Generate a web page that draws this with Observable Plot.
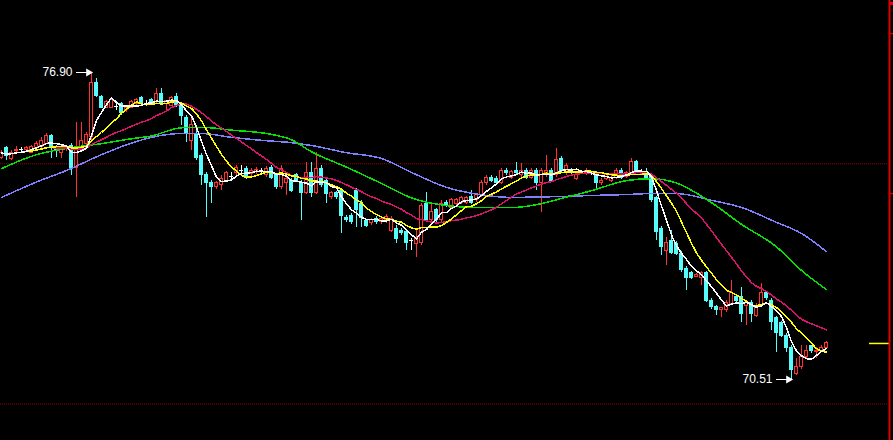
<!DOCTYPE html>
<html><head><meta charset="utf-8">
<script src="https://cdn.jsdelivr.net/npm/d3@7"></script>
<script src="https://cdn.jsdelivr.net/npm/@observablehq/plot@0.6"></script>
<style>
html,body{margin:0;padding:0;background:#000;overflow:hidden;width:893px}
#chart svg{display:block;max-width:none}
</style></head><body><div id="chart"></div>
<script>
// ---- candle data (one bar per session) ----
const opens = [
75.13,75.32,75.11,75.27,75.30,75.28,75.23,75.32,75.34,75.42,
75.57,75.34,75.23,75.30,75.38,74.92,75.28,75.42,75.55,76.69,
76.40,76.17,76.17,76.19,76.25,76.11,76.17,76.25,76.36,76.25,
76.32,76.28,76.46,76.25,76.21,76.38,76.21,75.96,75.48,75.59,
75.17,74.76,74.61,74.51,74.55,74.65,74.73,74.80,74.86,74.90,
74.78,74.82,74.86,74.76,74.92,74.76,74.51,74.59,74.65,74.76,
74.61,74.40,74.80,74.40,74.90,74.65,74.30,74.40,74.44,73.88,
73.92,74.44,74.17,73.80,73.76,73.86,73.78,73.82,73.61,73.65,
73.61,73.57,73.40,73.34,73.36,74.17,73.82,74.03,73.82,74.19,
74.09,74.17,74.19,74.19,74.30,74.24,74.34,74.59,74.71,74.69,
74.61,74.86,74.71,74.86,74.76,74.86,74.71,74.86,74.61,74.80,
74.86,74.76,75.11,74.80,74.86,74.69,74.82,74.80,74.80,74.80,
74.59,74.69,74.65,74.71,74.86,74.73,74.80,75.03,74.82,74.80,
74.76,74.28,73.65,73.19,73.40,73.34,73.13,72.82,72.72,72.65,
72.63,72.72,72.15,72.01,71.95,71.95,72.09,72.22,72.22,72.05,
72.11,71.84,72.05,72.30,72.15,71.78,71.68,71.42,71.17,70.63,
70.76,70.97,71.20,71.09,71.11,71.17];
const highs = [
75.28,75.36,75.28,75.36,75.34,75.36,75.38,75.46,75.55,75.63,
75.61,75.38,75.36,75.36,75.42,75.86,75.86,75.65,76.90,76.78,
76.42,76.32,76.36,76.25,76.28,76.21,76.32,76.36,76.40,76.32,
76.36,76.57,76.57,76.32,76.40,76.46,76.25,76.00,75.94,75.69,
75.21,74.82,74.65,74.63,74.76,74.84,74.82,74.96,74.96,74.94,
74.90,74.92,74.90,74.94,74.96,74.80,74.96,74.76,74.69,74.80,
74.65,75.03,75.03,75.23,74.96,74.69,74.42,74.42,74.49,73.92,
73.96,74.49,74.24,73.84,73.86,73.90,73.90,73.94,73.90,73.71,
73.65,73.61,73.44,73.61,74.17,74.40,74.17,74.07,74.24,74.24,
74.28,74.28,74.32,74.32,74.44,74.38,74.65,74.76,74.76,74.73,
74.90,74.90,74.86,75.03,75.01,74.90,74.90,74.90,74.90,75.17,
74.90,75.32,75.15,75.01,74.90,74.80,74.86,74.90,74.84,74.84,
74.69,74.80,74.76,74.90,74.90,74.84,75.11,75.07,74.88,74.90,
74.80,74.32,73.69,73.46,73.61,73.38,73.17,72.86,72.76,72.72,
72.76,72.76,72.20,72.05,72.01,72.15,72.57,72.26,72.42,72.15,
72.15,72.09,72.51,72.34,72.20,71.82,71.72,71.47,71.22,70.95,
71.22,71.22,71.22,71.17,71.22,71.30];
const lows = [
75.09,75.07,75.07,75.21,75.26,75.23,75.21,75.30,75.32,75.40,
75.11,75.13,75.11,75.26,74.76,74.30,75.23,75.38,75.48,76.38,
76.15,76.15,76.15,76.11,76.00,76.07,76.15,76.21,76.21,76.19,
76.21,76.25,76.21,76.11,76.19,76.17,75.80,75.44,75.28,75.07,
74.55,73.88,74.17,74.47,74.44,74.61,74.65,74.76,74.76,74.67,
74.73,74.78,74.80,74.71,74.67,74.47,74.47,74.34,74.40,74.61,
73.82,74.36,74.30,74.36,74.51,74.17,74.26,74.26,73.55,73.78,
73.74,73.67,73.67,73.67,73.71,73.74,73.74,73.76,73.57,73.34,
73.51,73.19,73.19,73.05,73.30,73.78,73.78,73.78,73.78,74.09,
74.05,74.13,74.15,74.15,74.15,74.19,74.30,74.55,74.61,74.57,
74.57,74.76,74.67,74.76,74.71,74.67,74.67,74.44,73.99,74.71,
74.61,74.71,74.82,74.76,74.76,74.65,74.78,74.76,74.76,74.49,
74.55,74.65,74.61,74.67,74.67,74.69,74.76,74.82,74.76,74.67,
74.19,73.40,73.09,72.88,73.11,73.09,72.74,72.36,72.59,72.63,
72.47,72.11,71.97,71.84,71.80,71.90,72.05,72.11,71.70,71.63,
71.70,71.80,72.01,72.15,71.53,71.07,71.38,71.07,70.51,70.59,
70.72,70.92,71.05,70.95,71.07,71.13];
const closes = [
75.23,75.17,75.23,75.28,75.30,75.32,75.34,75.42,75.48,75.57,
75.34,75.28,75.34,75.32,74.90,75.32,75.48,75.59,76.69,76.42,
76.17,76.28,76.32,76.19,76.05,76.17,76.28,76.32,76.25,76.25,
76.25,76.46,76.25,76.30,76.36,76.21,76.00,75.65,75.80,75.13,
74.76,74.61,74.51,74.59,74.69,74.80,74.73,74.92,74.86,74.71,
74.86,74.88,74.86,74.90,74.71,74.51,74.90,74.69,74.44,74.65,
74.40,74.80,74.40,74.90,74.55,74.38,74.40,74.30,73.92,73.82,
73.78,74.03,73.88,73.71,73.82,73.78,73.86,73.90,73.86,73.44,
73.55,73.36,73.40,73.44,74.13,73.82,73.99,73.82,74.17,74.13,
74.24,74.24,74.28,74.28,74.19,74.34,74.61,74.71,74.65,74.61,
74.86,74.80,74.82,74.80,74.86,74.71,74.86,74.61,74.86,74.86,
74.65,75.07,74.86,74.96,74.80,74.76,74.82,74.86,74.80,74.61,
74.65,74.76,74.71,74.86,74.71,74.80,75.03,74.86,74.82,74.71,
74.24,73.57,73.26,73.36,73.15,73.13,72.78,72.63,72.63,72.69,
72.72,72.15,72.01,71.95,71.99,72.11,72.32,72.15,71.88,72.11,
71.88,72.05,72.30,72.20,71.70,71.47,71.42,71.17,70.70,70.76,
70.97,71.11,71.11,71.11,71.17,71.26];

// ---- long moving averages (bar index -> value) ----
const longMaIndex = [0,7,13,20,26,30,36,40,46,53,58,62,69,76,82,89,95,102,108,112,118,125,130,135,142,148,155,160,165];
const maGreen = [74.90,75.19,75.32,75.42,75.52,75.58,75.75,75.76,75.70,75.63,75.50,75.25,74.93,74.59,74.29,74.13,74.09,74.09,74.17,74.28,74.44,74.65,74.69,74.60,74.19,73.74,73.27,72.78,72.38];
const maBlue  = [74.30,74.62,74.86,75.19,75.43,75.55,75.63,75.63,75.55,75.48,75.44,75.38,75.23,75.11,74.82,74.51,74.37,74.30,74.31,74.32,74.34,74.36,74.38,74.38,74.24,74.09,73.78,73.55,73.17];

// short moving average periods (computed from closes by Plot.windowY)
const shortMaPeriods = [20, 10, 5];
const shortMaColors = ["#d8146a", "#ffff00", "#ffffff"];

// reference levels and right-scale marks
const refLevels = [75.00, 70.00];
const rightTicks = [77.71, 74.38];
const topMark = [78.34];

const UP = "#ff3232", DOWN = "#54fcfc", FLAT = "#ffffff";
const xDomain = [-0.2, 177.6];
const bars = closes.map((c, i) => ({i, open: opens[i], high: highs[i], low: lows[i], close: c}));
const col = d => d.close > d.open ? UP : d.close < d.open ? DOWN : FLAT;
const flatBars = bars.filter(d => d.close === d.open);
const bodyBars = bars.filter(d => d.close !== d.open);
const hiBar = bars[d3.maxIndex(highs)];
const loBar = bars[d3.minIndex(lows)];
const lastClose = [closes[closes.length - 1]];
const longMa = longMaIndex.map((k, j) => ({i: k, g: maGreen[j], b: maBlue[j]}));
const fmt = d3.format(".2f");
const W = 0.3;
const edge = xDomain[1];

const chart = Plot.plot({
  width: 893, height: 440,
  marginTop: 0, marginBottom: 0, marginLeft: 0, marginRight: 4,
  style: {background: "#000", color: "#fff", fontFamily: "'Liberation Sans', Arial, sans-serif"},
  x: {type: "linear", domain: xDomain, axis: null},
  y: {domain: [69.24, 78.399], axis: null},
  marks: [
    Plot.ruleY(refLevels, {x1: xDomain[0], x2: edge - 0.4, stroke: "#a00000", strokeDasharray: "1,1"}),
    // wicks
    Plot.ruleX(bars, {x: "i", y1: "low", y2: "high", stroke: col, shapeRendering: "crispEdges"}),
    // bodies
    Plot.rect(bodyBars, {x1: d => d.i - W, x2: d => d.i + W, y1: "open", y2: "close",
      fill: d => d.close > d.open ? "#000" : DOWN, stroke: col, shapeRendering: "crispEdges"}),
    Plot.ruleY(flatBars, {y: "close", x1: d => d.i - W - 0.1, x2: d => d.i + W + 0.1, stroke: FLAT, shapeRendering: "crispEdges"}),
    // long averages
    Plot.line(longMa, {x: "i", y: "b", stroke: "#8080ff", curve: "monotone-x", shapeRendering: "crispEdges"}),
    Plot.line(longMa, {x: "i", y: "g", stroke: "#00e600", curve: "monotone-x", shapeRendering: "crispEdges"}),
    // short averages
    ...shortMaPeriods.map((k, j) => Plot.lineY(bars, Plot.windowY({k, anchor: "end"},
      {x: "i", y: "close", stroke: shortMaColors[j], shapeRendering: "crispEdges"}))),
    // high / low annotations
    ...[hiBar, loBar].flatMap(b => {
      const key = b === hiBar ? "high" : "low";
      return [
        Plot.link([b], {x1: d => d.i - 3.2, x2: d => d.i - 0.7, y1: key, y2: key, stroke: "#fff", shapeRendering: "crispEdges"}),
        Plot.dot([b], {x: d => d.i - 0.6, y: key, symbol: "triangle", rotate: 90, r: 3, fill: "#fff", stroke: "none"}),
        Plot.text([b], {x: "i", y: key, text: d => fmt(d[key]), dx: -19, textAnchor: "end", fill: "#fff", fontSize: 12})
      ];
    }),
    // right scale: last-price marker, ticks, border
    Plot.ruleY(lastClose, {x1: edge - 4, x2: edge, stroke: "#ffff00", strokeWidth: 1.5}),
    Plot.ruleY(rightTicks, {x1: edge, x2: edge + 0.8, stroke: "#d00000", strokeWidth: 1.5}),
    Plot.ruleY(topMark, {x1: edge, x2: edge + 0.8, stroke: "#ff0000", strokeWidth: 3}),
    Plot.ruleX([edge], {stroke: "#e00000", strokeWidth: 2})
  ]
});
document.getElementById("chart").appendChild(chart);
</script>
</body></html>
